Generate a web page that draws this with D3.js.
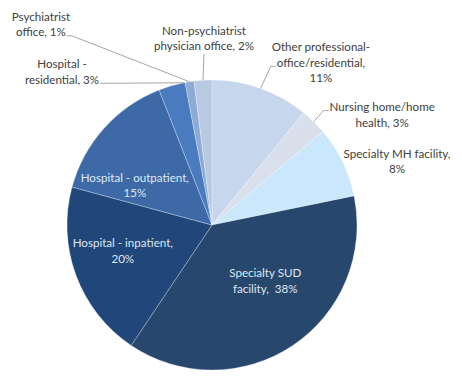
<!DOCTYPE html>
<html>
<head>
<meta charset="utf-8">
<script src="https://cdn.jsdelivr.net/npm/d3@7"></script>
<style>
  body { margin: 0; background: #fff; }
  svg text { font-family: Lato, "Open Sans", sans-serif; font-size: 11.6px; white-space: pre; }
</style>
</head>
<body>
<svg width="462" height="384"></svg>
<script>
// data (clockwise from 12 o'clock)
const categories = [
  "Other professional-office/residential",
  "Nursing home/home health",
  "Specialty MH facility",
  "Specialty SUD facility",
  "Hospital - inpatient",
  "Hospital - outpatient",
  "Hospital - residential",
  "Psychiatrist office",
  "Non-psychiatrist physician office"
];
const values = [11, 3, 8, 38, 20, 15, 3, 1, 2];
const labelLines = [
  ["Other professional-", "office/residential,", "11%"],
  ["Nursing home/home", "health, 3%"],
  ["Specialty MH facility,", "8%"],
  ["Specialty SUD", "facility,  38%"],
  ["Hospital - inpatient,", "20%"],
  ["Hospital - outpatient,", "15%"],
  ["Hospital -", "residential, 3%"],
  ["Psychiatrist", "office, 1%"],
  ["Non-psychiatrist", "physician office, 2%"]
];

const colors = ["#c6d6ed", "#d9e0ec", "#cae7fb", "#27476c", "#20467a",
                "#3d6aa6", "#4a7bbe", "#8eabd5", "#b8c9e1"];

// label placement: radius factor, angle shift (deg), inside or not, leader
const placement = [
  { k: 1.35, shift: 14.2, inside: false, leader: { side: "left", line: 1 } },
  { k: 1.40, shift: 12.4, inside: false, leader: { side: "left", line: 0 } },
  { k: 1.35, shift: 6.8, inside: false },
  { k: 0.53, shift: -10, inside: true },
  { k: 0.64, shift: 4.5, inside: true },
  { k: 0.60, shift: -14.4, inside: true },
  { k: 1.48, shift: -28.3, inside: false, leader: { side: "right", line: 1, at: 0.95 } },
  { k: 1.82, shift: -31.5, inside: false, leader: { side: "right", line: 1 } },
  { k: 1.29, shift: 1.1, inside: false, leader: { side: "bottom" } }
];

const cx = 212, cy = 225, r = 145;
const lineH = 15.5;

const svg = d3.select("svg");
const g = svg.append("g").attr("transform", `translate(${cx},${cy})`);

const pie = d3.pie().sort(null).value(d => d.value);
const arcs = pie(categories.map((c, i) => ({ name: c, value: values[i], i })));

const arc = d3.arc().innerRadius(0).outerRadius(r);

g.selectAll("path.slice")
  .data(arcs)
  .join("path")
  .attr("class", "slice")
  .attr("d", arc)
  .attr("fill", d => colors[d.data.i])
  .attr("stroke", "rgba(255,255,255,0.35)")
  .attr("stroke-width", 0.8);

function polar(a, rad) {
  return [Math.sin(a) * rad, -Math.cos(a) * rad];
}

const toRad = Math.PI / 180;

arcs.forEach(d => {
  const i = d.data.i;
  const p = placement[i];
  const mid = (d.startAngle + d.endAngle) / 2;
  const [lx, ly] = polar(mid + p.shift * toRad, p.k * r);
  const lines = labelLines[i];
  const n = lines.length;

  const t = g.append("text")
    .attr("text-anchor", "middle")
    .attr("fill", p.inside ? "#dfe7f3" : "#404040");

  const widths = [];
  lines.forEach((s, j) => {
    const ts = t.append("tspan")
      .attr("x", lx)
      .attr("y", ly + (j - (n - 1) / 2) * lineH)
      .attr("dominant-baseline", "central")
      .text(s);
    widths.push(ts.node().getComputedTextLength());
  });

  if (!p.leader) return;

  // where the leader touches the pie
  const la = p.leader.at != null
    ? d.startAngle + (d.endAngle - d.startAngle) * p.leader.at
    : mid;
  const end = polar(la, r);
  let pts;
  if (p.leader.side === "bottom") {
    const y0 = ly + ((n - 1) / 2) * lineH + 8;
    pts = [[lx, y0], end];
  } else {
    const j = p.leader.line;
    const w = widths[j];
    const yy = ly + (j - (n - 1) / 2) * lineH + 4;
    if (p.leader.side === "left") {
      const x0 = lx - w / 2 - 1;
      pts = [[x0, yy], [x0 - 5, yy], end];
    } else {
      const x0 = lx + w / 2 + 1;
      pts = [[x0, yy], [x0 + 5, yy], end];
    }
  }
  g.append("path")
    .attr("d", d3.line()(pts))
    .attr("fill", "none")
    .attr("stroke", "#a6a6a6")
    .attr("stroke-width", 1);
});
</script>
</body>
</html>
